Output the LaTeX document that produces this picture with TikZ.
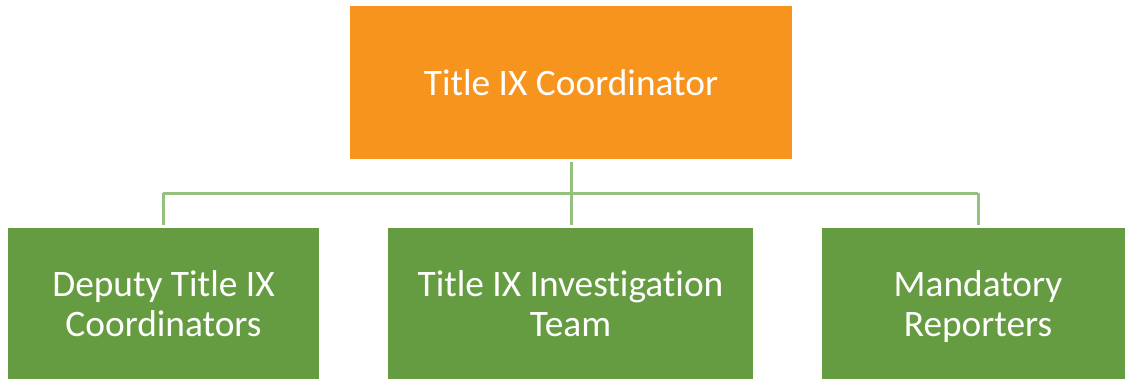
\documentclass[tikz,border=0pt]{standalone}
\usepackage{fontspec}
\setmainfont{Carlito}[RawFeature=-liga]
\definecolor{orangebox}{HTML}{F7941E}
\definecolor{greenbox}{HTML}{669C41}
\definecolor{linegreen}{HTML}{94C17E}
\begin{document}
\begin{tikzpicture}[x=1bp,y=-1bp,
  box/.style={rectangle,inner sep=0pt,outer sep=0pt,text=white,align=center,
    font=\fontsize{37.5}{40}\selectfont},
  topbox/.style={box,fill=orangebox,minimum width=442bp,minimum height=153bp},
  subbox/.style={box,fill=greenbox,minimum height=151bp,text depth=0bp},
  link/.style={draw=linegreen,line width=3bp,shorten >=3bp,shorten <=3bp}]
\useasboundingbox (0,0) rectangle (1125,379);
\clip (0,0) rectangle (1125,379);
\node[topbox] (top) at (571,82.5) {Title IX Coordinator};
\node[subbox,minimum width=311bp] (dep) at (163.5,303.5) {Deputy Title IX\\Coordinators};
\node[subbox,minimum width=365bp] (inv) at (570.5,303.5) {Title IX Investigation\\Team};
\node[subbox,minimum width=312bp] (man) at (978,303.5) {Mandatory\\Reporters};
\coordinate (bus) at (571,193);
\draw[link,shorten >=0pt] (top.south) -- (bus);
\draw[line width=3bp,draw=linegreen] (163,193) -- (978,193);
\draw[link,shorten <=0pt] (bus -| dep.north) -- (dep.north);
\draw[link,shorten <=0pt] (bus) -- (inv.north -| bus);
\draw[link,shorten <=0pt] (bus -| man.north) -- (man.north);
\end{tikzpicture}
\end{document}
